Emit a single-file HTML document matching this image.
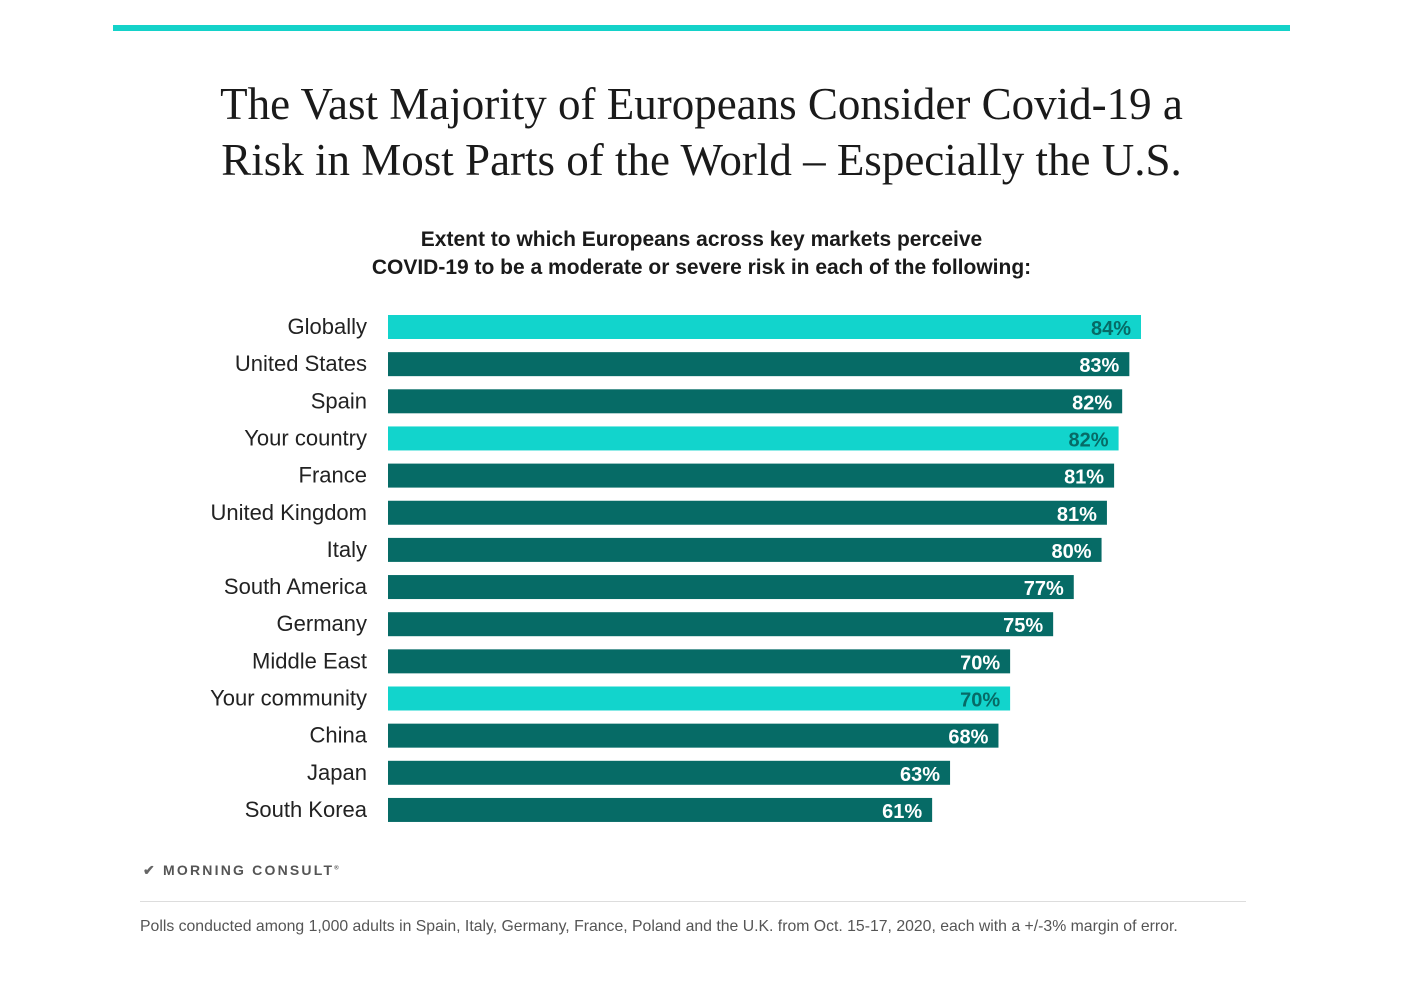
<!DOCTYPE html>
<html><head><meta charset="utf-8"><style>
body{margin:0;background:#fff;width:1403px;height:992px;position:relative;overflow:hidden;font-family:"Liberation Sans",sans-serif}
.abs{position:absolute}
</style></head><body>
<div class="abs" style="left:113px;top:25px;width:1177px;height:6px;background:#14d2c9"></div>
<div class="abs" style="left:0;top:76px;width:1403px;text-align:center;font-family:'Liberation Serif',serif;font-size:45px;line-height:56px;color:#1a1a1a">The Vast Majority of Europeans Consider Covid-19 a<br>Risk in Most Parts of the World – Especially the U.S.</div>
<div class="abs" style="left:0;top:226px;width:1403px;text-align:center;font-weight:bold;font-size:21px;line-height:28px;color:#1a1a1a">Extent to which Europeans across key markets perceive<br>COVID-19 to be a moderate or severe risk in each of the following:</div>
<svg class="abs" style="left:0;top:0" width="1403" height="992" id="chart"></svg>
<div class="abs" style="left:143px;top:862px;font-size:14px;font-weight:bold;letter-spacing:2.2px;color:#555"><span style="color:#666">&#x2714;&#xFE0E;</span> MORNING CONSULT<sup style="font-size:6px">®</sup></div>
<div class="abs" style="left:140px;top:901px;width:1106px;height:1px;background:#ddd"></div>
<div class="abs" style="left:140px;top:918px;font-size:15.8px;color:#555">Polls conducted among 1,000 adults in Spain, Italy, Germany, France, Poland and the U.K. from Oct. 15-17, 2020, each with a +/-3% margin of error.</div>
<script>
const categories=["Globally","United States","Spain","Your country","France","United Kingdom","Italy","South America","Germany","Middle East","Your community","China","Japan","South Korea"];
const values=[84.0,82.7,81.9,81.5,81.0,80.2,79.6,76.5,74.2,69.4,69.4,68.1,62.7,60.7];
const valueLabels=["84%","83%","82%","82%","81%","81%","80%","77%","75%","70%","70%","68%","63%","61%"];
const highlight=[true,false,false,true,false,false,false,false,false,false,true,false,false,false];
const svg=document.getElementById('chart');
const NS='http://www.w3.org/2000/svg';
const x0=388, pxPer=753/84;
const xScale=v=>v*pxPer;
const yScale=i=>315+i*37.15;
categories.forEach((c,i)=>{
  const y=yScale(i), w=xScale(values[i]);
  const r=document.createElementNS(NS,'rect');
  r.setAttribute('x',x0);r.setAttribute('y',y);r.setAttribute('width',w);r.setAttribute('height',24);
  r.setAttribute('fill',highlight[i]?'#12d4cc':'#066b66');
  
  
  svg.appendChild(r);
  const t=document.createElementNS(NS,'text');
  t.setAttribute('x',367);t.setAttribute('y',y+19);t.setAttribute('text-anchor','end');
  t.setAttribute('font-size','22');t.setAttribute('fill','#222');t.setAttribute('font-family','Liberation Sans, sans-serif');
  t.textContent=c;
  
  
  svg.appendChild(t);
  const v=document.createElementNS(NS,'text');
  v.setAttribute('x',x0+w-10);v.setAttribute('y',y+20);v.setAttribute('text-anchor','end');
  v.setAttribute('font-size','20');v.setAttribute('font-weight','bold');v.setAttribute('font-family','Liberation Sans, sans-serif');
  v.setAttribute('fill',highlight[i]?'#066b66':'#fff');
  v.textContent=valueLabels[i];
  
  
  svg.appendChild(v);
});
</script>
</body></html>
